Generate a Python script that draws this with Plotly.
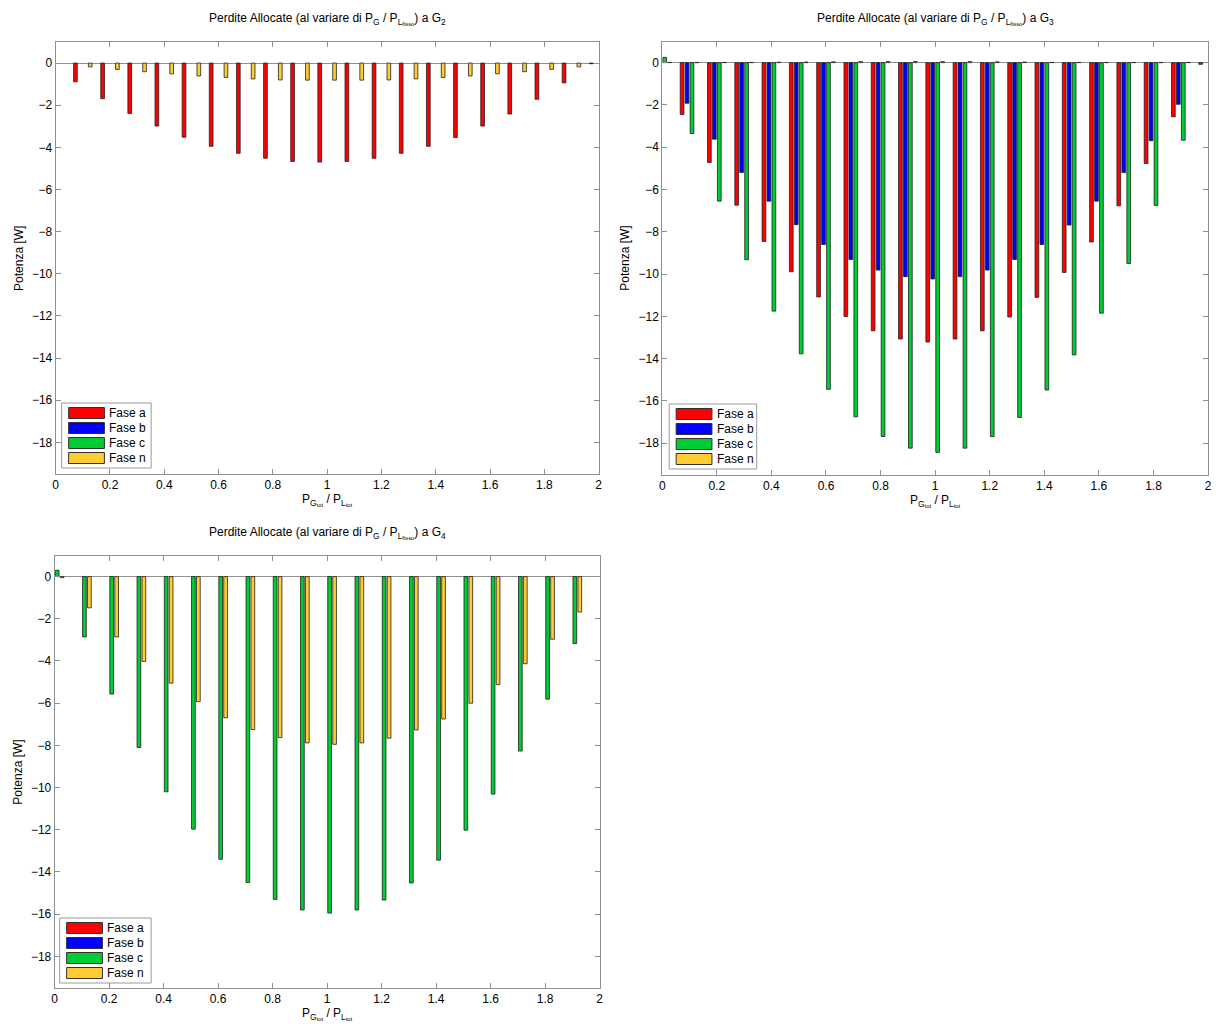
import plotly.graph_objects as go

# Rapporto P_G/P_L (asse x, gruppi di barre)
ratio = [0.0, 0.1, 0.2, 0.3, 0.4, 0.5, 0.6, 0.7, 0.8, 0.9, 1.0,
         1.1, 1.2, 1.3, 1.4, 1.5, 1.6, 1.7, 1.8, 1.9, 2.0]

phase_names = ["Fase a", "Fase b", "Fase c", "Fase n"]

# Perdite allocate a G2 [W]
g2_a = [0.0, -0.89, -1.69, -2.39, -2.99, -3.52, -3.95, -4.28, -4.52, -4.67, -4.70,
        -4.67, -4.52, -4.28, -3.95, -3.53, -2.99, -2.42, -1.72, -0.94, -0.03]
g2_b = [0.0, 0.0, 0.0, 0.0, 0.0, 0.0, 0.0, 0.0, 0.0, 0.0, 0.0,
        0.0, 0.0, 0.0, 0.0, 0.0, 0.0, 0.0, 0.0, 0.0, 0.0]
g2_c = [0.0, 0.0, 0.0, 0.0, 0.0, 0.0, 0.0, 0.0, 0.0, 0.0, 0.0,
        0.0, 0.0, 0.0, 0.0, 0.0, 0.0, 0.0, 0.0, 0.0, 0.0]
g2_n = [0.0, -0.18, -0.30, -0.41, -0.51, -0.61, -0.68, -0.75, -0.80, -0.81, -0.81,
        -0.81, -0.80, -0.75, -0.68, -0.61, -0.51, -0.41, -0.30, -0.18, 0.0]

# Perdite allocate a G3 [W]
g3_a = [0.0, -2.45, -4.72, -6.74, -8.46, -9.89, -11.08, -12.00, -12.68, -13.07, -13.21,
        -13.07, -12.68, -12.03, -11.10, -9.92, -8.48, -6.77, -4.77, -2.56, -0.08]
g3_b = [0.0, -1.92, -3.62, -5.20, -6.55, -7.66, -8.60, -9.31, -9.81, -10.12, -10.23,
        -10.12, -9.81, -9.31, -8.60, -7.68, -6.55, -5.20, -3.69, -1.97, 0.0]
g3_c = [0.25, -3.35, -6.55, -9.32, -11.75, -13.77, -15.45, -16.75, -17.68, -18.23, -18.43,
        -18.23, -17.68, -16.78, -15.48, -13.82, -11.85, -9.50, -6.75, -3.67, 0.0]
g3_n = [0.01, 0.01, 0.01, 0.01, 0.02, 0.03, 0.04, 0.05, 0.05, 0.05, 0.05,
        0.05, 0.04, 0.03, 0.01, 0.01, 0.01, 0.01, 0.01, 0.01, 0.01]

# Perdite allocate a G4 [W]
g4_a = [0.0, 0.0, 0.0, 0.0, 0.0, 0.0, 0.0, 0.0, 0.0, 0.0, 0.0,
        0.0, 0.0, 0.0, 0.0, 0.0, 0.0, 0.0, 0.0, 0.0, 0.0]
g4_b = [0.0, 0.0, 0.0, 0.0, 0.0, 0.0, 0.0, 0.0, 0.0, 0.0, 0.0,
        0.0, 0.0, 0.0, 0.0, 0.0, 0.0, 0.0, 0.0, 0.0, 0.0]
g4_c = [0.30, -2.86, -5.57, -8.10, -10.20, -11.97, -13.40, -14.50, -15.30, -15.80, -15.95,
        -15.80, -15.33, -14.52, -13.44, -12.02, -10.31, -8.27, -5.81, -3.17, 0.0]
g4_n = [-0.05, -1.48, -2.86, -4.02, -5.05, -5.93, -6.69, -7.25, -7.63, -7.88, -7.95,
        -7.88, -7.66, -7.27, -6.75, -6.00, -5.12, -4.13, -2.97, -1.68, 0.0]

phase_colors = ["#ff0000", "#0000ff", "#00cc33", "#ffcc33"]

W, H = 1232, 1032
FONT = "Liberation Sans, Arial, sans-serif"


def fx(p):
    return p / W


def fy(p):
    return 1 - p / H


# pixel boxes of the three axes: (left, right, top, bottom)
panels = [
    dict(box=(53, 599, 42, 474), series=[g2_a, g2_b, g2_c, g2_n], gen="2",
         legend=(59, 149, 403, 468)),
    dict(box=(663, 1212, 41.5, 475), series=[g3_a, g3_b, g3_c, g3_n], gen="3",
         legend=(670, 758, 404, 469)),
    dict(box=(52, 600, 555.5, 988), series=[g4_a, g4_b, g4_c, g4_n], gen="4",
         legend=(57, 149, 918, 983)),
]

fig = go.Figure()
layout = dict(
    width=W, height=H,
    margin=dict(l=0, r=0, t=0, b=0),
    paper_bgcolor="white", plot_bgcolor="white",
    barmode="group", bargap=0.2727, bargroupgap=0.25,
    showlegend=False,
    font=dict(family=FONT, color="black"),
)
annotations = []
shapes = []

frame_col = "#8f8f8f"

for i, p in enumerate(panels):
    k = "" if i == 0 else str(i + 1)
    l, r, t, b = p["box"]
    for name, vals, col in zip(phase_names, p["series"], phase_colors):
        # exactly-zero bars get no outline so the baseline stays clean
        edge_w = [0 if v == 0 else 0.8 for v in vals]
        fig.add_trace(go.Bar(
            x=ratio, y=vals, name=name,
            marker=dict(color=col, line=dict(color="#202020", width=edge_w)),
            xaxis="x" + k, yaxis="y" + k,
        ))
    layout["xaxis" + k] = dict(
        domain=[fx(l), fx(r)], anchor="y" + k,
        range=[0, 2], tick0=0, dtick=0.2,
        ticks="inside", ticklen=5, tickcolor=frame_col,
        showline=True, linecolor=frame_col, linewidth=1, mirror="allticks",
        showgrid=False, zeroline=False,
        tickfont=dict(size=12, family=FONT, color="black"),
    )
    layout["yaxis" + k] = dict(
        domain=[fy(b), fy(t)], anchor="x" + k,
        range=[-19.5, 1], tick0=0, dtick=2,
        ticks="inside", ticklen=5, tickcolor=frame_col,
        showline=True, linecolor=frame_col, linewidth=1, mirror="allticks",
        showgrid=False, zeroline=True, zerolinecolor=frame_col, zerolinewidth=1,
        tickfont=dict(size=12, family=FONT, color="black"),
    )
    cx = (l + r) / 2
    # title
    annotations.append(dict(
        xref="paper", yref="paper", x=fx(cx), y=fy(t - 23),
        xanchor="center", yanchor="middle", showarrow=False,
        text="Perdite Allocate (al variare di P<sub>G</sub> / P<sub>L<sub>fisso</sub></sub>) a G<sub>"
             + p["gen"] + "</sub>",
        font=dict(size=12, family=FONT, color="black"),
    ))
    # x axis title
    annotations.append(dict(
        xref="paper", yref="paper", x=fx(cx), y=fy(b + 26),
        xanchor="center", yanchor="middle", showarrow=False,
        text="P<sub>G<sub>tot</sub></sub> / P<sub>L<sub>tot</sub></sub>",
        font=dict(size=12, family=FONT, color="black"),
    ))
    # y axis title
    annotations.append(dict(
        xref="paper", yref="paper", x=fx(l - 37), y=fy((t + b) / 2),
        xanchor="center", yanchor="middle", showarrow=False, textangle=-90,
        text="Potenza [W]",
        font=dict(size=12, family=FONT, color="black"),
    ))
    # legend box
    ll, lr, lt, lb = p["legend"]
    shapes.append(dict(type="rect", xref="paper", yref="paper",
                       x0=fx(ll), x1=fx(lr), y0=fy(lb), y1=fy(lt),
                       line=dict(color="#9a9a9a", width=1), fillcolor="white", layer="above"))
    for j, (name, col) in enumerate(zip(phase_names, phase_colors)):
        yc = lt + 10 + 15 * j
        shapes.append(dict(type="rect", xref="paper", yref="paper",
                           x0=fx(ll + 7), x1=fx(ll + 43), y0=fy(yc + 5.5), y1=fy(yc - 5.5),
                           line=dict(color="#303030", width=1), fillcolor=col, layer="above"))
        annotations.append(dict(
            xref="paper", yref="paper", x=fx(ll + 46), y=fy(yc),
            xanchor="left", yanchor="middle", showarrow=False, text=name,
            font=dict(size=12, family=FONT, color="black"),
        ))

layout["annotations"] = annotations
layout["shapes"] = shapes
fig.update_layout(**layout)
fig.write_html("out.html")
